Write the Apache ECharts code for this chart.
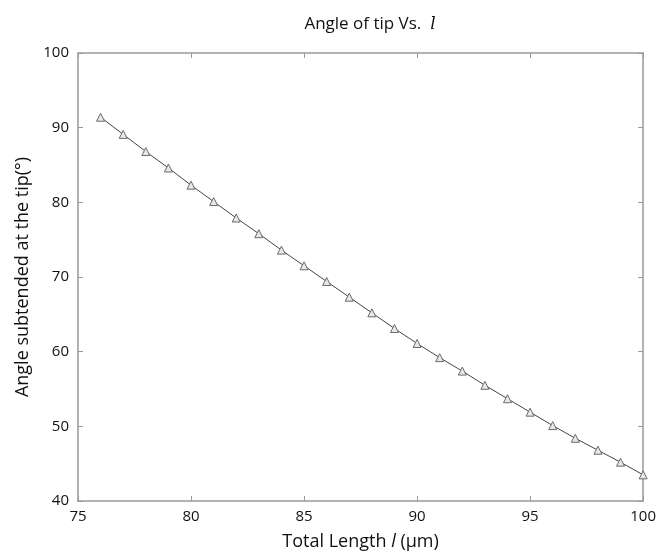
<!DOCTYPE html>
<html>
<head>
<meta charset="utf-8">
<script src="https://cdn.jsdelivr.net/npm/echarts@6/dist/echarts.min.js"></script>
<style>html,body{margin:0;padding:0;background:#fff;}#c{width:659px;height:559px;}</style>
</head>
<body>
<div id="c"></div>
<script>
var lengths = [76,77,78,79,80,81,82,83,84,85,86,87,88,89,90,91,92,93,94,95,96,97,98,99,100];
var angles = [91.4,89.1,86.8,84.6,82.3,80.1,77.9,75.8,73.6,71.5,69.4,67.3,65.2,63.1,61.1,59.2,57.4,55.5,53.7,51.9,50.1,48.4,46.8,45.2,43.5];
var xTicks = [75,80,85,90,95,100];
var yTicks = [40,50,60,70,80,90,100];

var FONT = '"Open Sans", "Noto Sans", sans-serif';
var axisColor = '#9a9a9a';
var chart = echarts.init(document.getElementById('c'));
var pts = lengths.map(function(x,i){return [x, angles[i]];});
var common = {
  axisLine:{show:true,onZero:false,lineStyle:{color:axisColor,width:1.5}},
  axisTick:{show:true,inside:true,length:5,lineStyle:{color:axisColor,width:1}},
  splitLine:{show:false}
};
chart.setOption({
  animation:false,
  title:{
    text:'{n|Angle of tip Vs.  }{i|l}',
    left:365, top:11, textAlign:'center',
    textStyle:{fontWeight:'normal',rich:{
      n:{fontFamily:FONT,fontWeight:'normal',fontSize:17,color:'#111'},
      i:{fontFamily:'"DejaVu Serif", serif',fontWeight:'normal',fontStyle:'italic',fontSize:17,color:'#111'}
    }}
  },
  grid:{left:78,right:14,top:53,bottom:58,containLabel:false},
  xAxis:[
    Object.assign({type:'value',min:75,max:100,interval:5,position:'bottom',
      name:'{n|Total Length }{i|l}{n| (μm)}',nameLocation:'middle',nameGap:32,
      nameTextStyle:{rich:{
        n:{fontFamily:FONT,fontSize:18,color:'#111'},
        i:{fontFamily:FONT,fontStyle:'italic',fontSize:18,color:'#111'}
      }},
      axisLabel:{show:true,margin:8,fontFamily:FONT,fontSize:15,color:'#111',
        formatter:function(v){return xTicks.indexOf(v)>=0?String(v):'';}}
    },common),
    Object.assign({type:'value',min:75,max:100,interval:5,position:'top',axisLabel:{show:false}},common)
  ],
  yAxis:[
    Object.assign({type:'value',min:40,max:100,interval:10,position:'left',
      name:'Angle subtended at the tip(°)',nameLocation:'middle',nameGap:32,nameRotate:90,
      nameTextStyle:{fontFamily:FONT,fontSize:18,color:'#111'},
      axisLabel:{show:true,margin:9,fontFamily:FONT,fontSize:15,color:'#111',
        formatter:function(v){return yTicks.indexOf(v)>=0?String(v):'';}}
    },common),
    Object.assign({type:'value',min:40,max:100,interval:10,position:'right',axisLabel:{show:false}},common)
  ],
  series:[{
    type:'line',
    data:pts,
    xAxisIndex:0,yAxisIndex:0,
    symbol:'triangle',symbolSize:8,
    lineStyle:{color:'#444',width:1},
    itemStyle:{color:'#e8e8e8',borderColor:'#6a6a6a',borderWidth:1},
    clip:false
  }]
});
</script>
</body>
</html>
